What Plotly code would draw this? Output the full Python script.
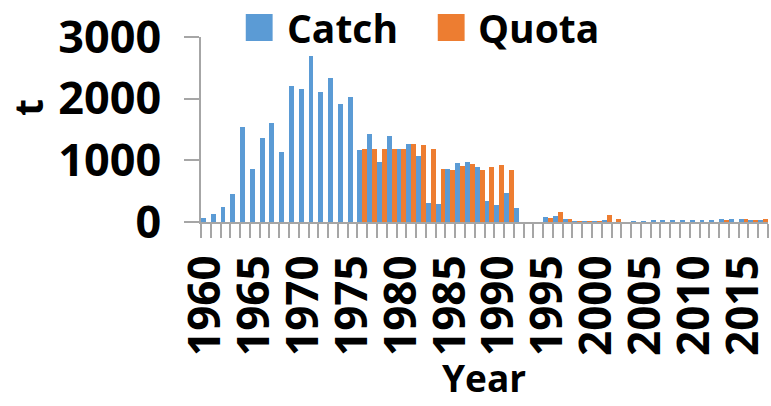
import plotly.graph_objects as go

years = list(range(1960, 2018))
catch = [60, 130, 240, 460, 1540, 860, 1370, 1600, 1130, 2200,
         2150, 2690, 2110, 2340, 1920, 2030, 1170, 1420, 980, 1400,
         1190, 1270, 1070, 310, 300, 860, 960, 965, 890, 335,
         275, 470, 230, 0, 0, 80, 90, 48, 5, 15,
         15, 35, 0, 0, 10, 10, 20, 20, 20, 20,
         35, 20, 35, 43, 53, 53, 20, 20]
quota = [0, 0, 0, 0, 0, 0, 0, 0, 0, 0,
         0, 0, 0, 0, 0, 0, 1190, 1190, 1190, 1190,
         1190, 1270, 1250, 1190, 865, 850, 905, 935, 845, 895,
         925, 845, 0, 0, 0, 70, 170, 48, 15, 15,
         15, 113, 53, 0, 0, 0, 0, 0, 0, 0,
         0, 0, 0, 37, 0, 43, 27, 43]
y_ticks = [0, 1000, 2000, 3000]
x_ticks = list(range(1960, 2016, 5))

BLUE = "#5B9BD5"
ORANGE = "#ED7D31"
AXIS = "#A6A6A6"
FONT = "Open Sans"

W, H = 771, 406
L, R, T, B = 201, 0, 37, 184
pw, ph = W - L - R, H - T - B

def px(x):
    return (x - L) / pw

def py(y):
    return (H - B - y) / ph

fig = go.Figure()
fig.add_trace(go.Bar(x=years, y=catch, name="Catch", marker=dict(color=BLUE, line=dict(width=0))))
fig.add_trace(go.Bar(x=years, y=quota, name="Quota", marker=dict(color=ORANGE, line=dict(width=0))))

fig.update_layout(
    width=W, height=H,
    margin=dict(l=L, r=R, t=T, b=B, pad=0),
    barmode="group", bargap=0, bargroupgap=0,
    plot_bgcolor="white", paper_bgcolor="white",
    showlegend=False,
    font=dict(family=FONT, color="black"),
)
fig.update_xaxes(
    range=[years[0] - 0.5, years[-1] + 0.5],
    tickmode="array", tickvals=x_ticks, ticktext=[str(v) for v in x_ticks],
    tickangle=-90,
    tickfont=dict(family=FONT, size=44, weight="bold", color="black"),
    ticks="outside", ticklen=14, tickcolor="rgba(0,0,0,0)",
    ticklabeloverflow="allow",
    minor=dict(tickmode="array", tickvals=[y - 0.5 for y in years] + [years[-1] + 0.5],
               ticks="outside", ticklen=14, tickcolor=AXIS, tickwidth=1.5, showgrid=False),
    showline=True, linecolor=AXIS, linewidth=1.5,
    showgrid=False, zeroline=False,
)
fig.update_yaxes(
    range=[0, 3000],
    tickmode="array", tickvals=y_ticks,
    tickfont=dict(family=FONT, size=45, weight="bold", color="black"),
    ticks="outside", ticklen=15, tickcolor=AXIS, tickwidth=1.5,
    ticklabelstandoff=14,
    showline=True, linecolor=AXIS, linewidth=1.5,
    showgrid=False, zeroline=False,
)

# legend (drawn manually to match square size)
for x0, col in [(246, BLUE), (439, ORANGE)]:
    fig.add_shape(type="rect", xref="paper", yref="paper",
                  x0=px(x0), x1=px(x0 + 27), y0=py(41), y1=py(14),
                  fillcolor=col, line=dict(width=0))
for x0, txt in [(285, "Catch"), (477, "Quota")]:
    fig.add_annotation(text=txt, xref="paper", yref="paper", x=px(x0), y=py(27),
                       xanchor="left", yanchor="middle", showarrow=False,
                       font=dict(family=FONT, size=39, weight="bold", color="black"))

# axis titles
fig.add_annotation(text="t", xref="paper", yref="paper", x=px(26), y=py(107),
                   xanchor="center", yanchor="middle", textangle=-90, showarrow=False,
                   font=dict(family=FONT, size=39, weight="bold", color="black"))
fig.add_annotation(text="Year", xref="paper", yref="paper", x=px(485), y=py(405),
                   xanchor="center", yanchor="bottom", showarrow=False,
                   font=dict(family=FONT, size=37, weight="bold", color="black"))

fig.write_html("out.html", config={"displayModeBar": False},
               post_script="document.body.style.margin='0';document.body.style.overflow='hidden';")
